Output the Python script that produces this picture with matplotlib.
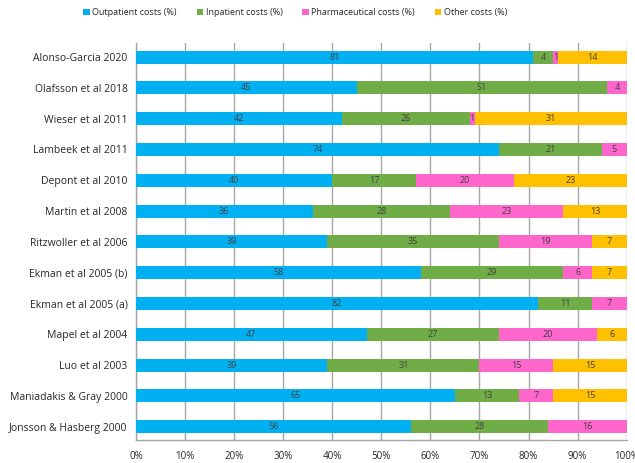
import matplotlib
matplotlib.use("Agg")
import matplotlib.pyplot as plt
from matplotlib.patches import Patch
import numpy as np

studies = ["Alonso-Garcia 2020", "Olafsson et al 2018", "Wieser et al 2011", "Lambeek et al 2011",
           "Depont et al 2010", "Martin et al 2008", "Ritzwoller et al 2006", "Ekman et al 2005 (b)",
           "Ekman et al 2005 (a)", "Mapel et al 2004", "Luo et al 2003", "Maniadakis & Gray 2000",
           "Jonsson & Hasberg 2000"]
outpatient = [81, 45, 42, 74, 40, 36, 39, 58, 82, 47, 39, 65, 56]
inpatient = [4, 51, 26, 21, 17, 28, 35, 29, 11, 27, 31, 13, 28]
pharma = [1, 4, 1, 5, 20, 23, 19, 6, 7, 20, 15, 7, 16]
other = [14, 0, 31, 0, 23, 13, 7, 7, 0, 6, 15, 15, 0]
series_names = ["Outpatient costs (%)", "Inpatient costs (%)", "Pharmaceutical costs (%)", "Other costs (%)"]
colors = ["#00B0F0", "#70AD47", "#FF66CC", "#FFC000"]
xticks = [0, 10, 20, 30, 40, 50, 60, 70, 80, 90, 100]

plt.rcParams['font.family'] = ['Open Sans', 'DejaVu Sans']
fig = plt.figure(figsize=(6.35, 4.63), dpi=100)
ax = fig.add_axes([0.214, 0.0497, 0.773, 0.857])

n = len(studies)
y = np.arange(n)[::-1]
left = np.zeros(n)
for vals, col in zip([outpatient, inpatient, pharma, other], colors):
    vals = np.array(vals, dtype=float)
    ax.barh(y, vals, left=left, height=0.42, color=col, zorder=3)
    for yi, l, v in zip(y, left, vals):
        if v > 0:
            ax.text(l + v / 2, yi, f"{int(v)}", ha="center", va="center",
                    fontsize=6.5, color="#404040", zorder=4)
    left += vals

ax.set_xlim(0, 100)
ax.set_ylim(-0.43, n - 1 + 0.45)
ax.set_yticks(y)
ax.set_yticklabels(studies, fontsize=7.5, color="#262626")
ax.set_xticks(xticks)
ax.set_xticklabels([f"{t}%" for t in xticks], fontsize=7, color="#262626")
ax.tick_params(axis="y", length=0, pad=6)
ax.tick_params(axis="x", length=0, pad=8)
ax.grid(axis="x", color="#A6A6A6", linewidth=1.0, zorder=0)
for s in ["top", "right"]:
    ax.spines[s].set_visible(False)
for s in ["left", "bottom"]:
    ax.spines[s].set_color("#A6A6A6")
    ax.spines[s].set_linewidth(1.0)

handles = [Patch(facecolor=c, label=l) for c, l in zip(colors, series_names)]
fig.legend(handles=handles, loc="center", bbox_to_anchor=(0.465, 0.972), ncol=4,
           frameon=False, fontsize=6.5, handlelength=0.7, handleheight=0.7,
           columnspacing=2.2, handletextpad=0.3, labelcolor="#262626")

fig.savefig("out.png", dpi=100)
